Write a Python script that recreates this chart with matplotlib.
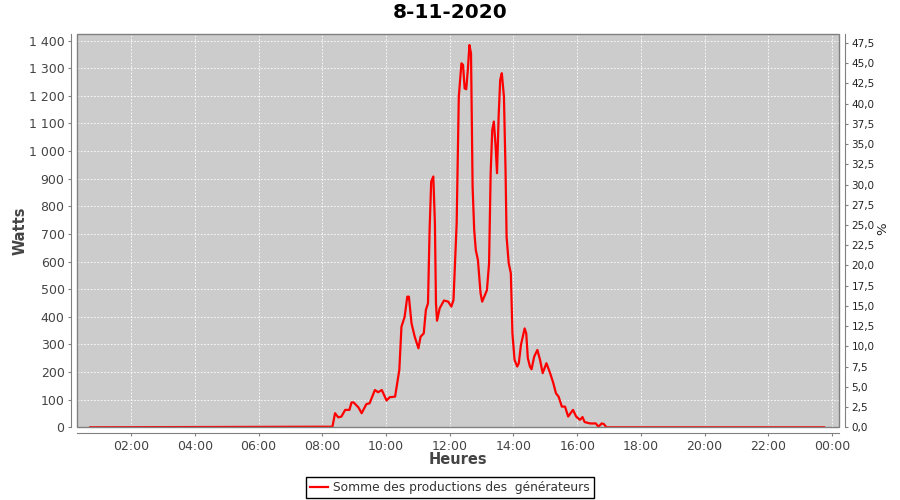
#!/usr/bin/env python3

import pandas as pd
import matplotlib
matplotlib.use("Agg")
from matplotlib import pyplot as plt
from matplotlib import dates as mdates
from matplotlib.ticker import FuncFormatter, MultipleLocator
from matplotlib.patches import Rectangle

DAY = "2020-11-08"
NEXT_DAY = "2020-11-09"
TITLE = "8-11-2020"
SERIES_NAME = "Somme des productions des  générateurs"
X_LABEL = "Heures"
Y_LABEL = "Watts"
Y2_LABEL = "%"

# production (time of day, watts)
TIMES = [
	"00:43", "07:42", "08:19", "08:24", "08:30", "08:36", "08:43", "08:51", "08:55", "08:59",
	"09:08", "09:14", "09:23", "09:29", "09:39", "09:45", "09:52", "10:01", "10:07", "10:17",
	"10:20", "10:25", "10:29", "10:35", "10:40", "10:43", "10:48", "10:54", "11:01", "11:05",
	"11:11", "11:15", "11:19", "11:22", "11:25", "11:29", "11:32", "11:34", "11:36", "11:41",
	"11:49", "11:57", "12:03", "12:07", "12:13", "12:17", "12:22", "12:25", "12:28", "12:31",
	"12:34", "12:37", "12:40", "12:43", "12:46", "12:49", "12:53", "12:58", "13:01", "13:05",
	"13:10", "13:14", "13:17", "13:20", "13:23", "13:26", "13:29", "13:32", "13:35", "13:38",
	"13:42", "13:45", "13:47", "13:51", "13:55", "13:58", "14:02", "14:07", "14:10", "14:14",
	"14:21", "14:24", "14:27", "14:31", "14:34", "14:39", "14:45", "14:50", "14:55", "15:02",
	"15:09", "15:15", "15:20", "15:25", "15:31", "15:37", "15:43", "15:52", "15:58", "16:05",
	"16:10", "16:14", "16:24", "16:35", "16:40", "16:46", "16:50", "16:55", "23:45",
]
WATTS = [
	0, 2, 2, 51, 36, 39, 63, 63, 90, 90,
	72, 51, 84, 87, 135, 127, 135, 97, 109, 111,
	147, 208, 364, 400, 473, 473, 376, 328, 286, 328,
	340, 425, 449, 714, 889, 908, 739, 449, 386, 431,
	459, 455, 437, 461, 739, 1197, 1318, 1312, 1227, 1224,
	1294, 1384, 1354, 871, 714, 642, 606, 485, 455, 473,
	497, 594, 920, 1076, 1107, 1028, 920, 1125, 1258, 1282,
	1197, 932, 690, 594, 558, 340, 244, 220, 232, 298,
	358, 340, 250, 220, 210, 256, 280, 244, 196, 232,
	196, 160, 123, 111, 75, 75, 39, 63, 39, 27,
	37, 19, 14, 14, 2, 14, 12, 0, 0,
]

W_MAX = 1424
W_PER_PCT = 29.3


def fr_int(v, pos):
	return "{:,.0f}".format(v).replace(",", " ")


def fr_dec(v, pos):
	return "{:.1f}".format(v).replace(".", ",")


def plot_day():
	fig = plt.figure(figsize=(9, 5), dpi=100)
	ax = fig.add_axes([77 / 900, 72.7 / 500, 762 / 900, 393.3 / 500])
	ax.set_facecolor("#cccccc")

	x = pd.to_datetime([DAY + " " + t for t in TIMES])
	line, = ax.plot(x, WATTS, color="red", lw=1.6, solid_joinstyle="round", zorder=3)

	ax.set_xlim(pd.Timestamp(DAY + " 00:18"), pd.Timestamp(NEXT_DAY + " 00:13"))
	ax.set_ylim(0, W_MAX)
	ax.yaxis.set_major_locator(MultipleLocator(100))
	ax.yaxis.set_major_formatter(FuncFormatter(fr_int))
	ax.xaxis.set_major_locator(mdates.HourLocator(byhour=range(0, 24, 2)))
	ax.xaxis.set_major_formatter(mdates.DateFormatter("%H:%M"))
	ax.grid(True, color="white", ls=(0, (2, 2)), lw=0.6)

	for s in ["top", "right"]:
		ax.spines[s].set_visible(False)
	for s in ["left", "bottom"]:
		ax.spines[s].set_position(("outward", 4))
		ax.spines[s].set_color("#808080")
	ax.tick_params(colors="#444444", labelsize=9, length=2, width=0.8, pad=3)
	ax.tick_params(axis="both", color="#808080")
	ax.add_patch(Rectangle((0, 0), 1, 1, transform=ax.transAxes, fill=False,
		edgecolor="#808080", lw=1, clip_on=False, zorder=4))

	ax2 = ax.twinx()
	ax2.set_ylim(0, W_MAX / W_PER_PCT)
	ax2.yaxis.set_major_locator(MultipleLocator(2.5))
	ax2.yaxis.set_major_formatter(FuncFormatter(fr_dec))
	for s in ["top", "left", "bottom"]:
		ax2.spines[s].set_visible(False)
	ax2.spines["right"].set_position(("outward", 4))
	ax2.spines["right"].set_color("#808080")
	ax2.tick_params(colors="#222222", labelsize=7.5, length=2, width=0.8, pad=3)
	ax2.tick_params(axis="y", color="#808080")

	fig.text(0.5, 1 - 13 / 500, TITLE, ha="center", va="center", fontsize=14.5, fontweight="bold")
	fig.text(0.5 + 8 / 900, 1 - 460 / 500, X_LABEL, ha="center", va="center",
		fontsize=10.5, fontweight="bold", color="#444444")
	fig.text(20 / 900, 1 - 231 / 500, Y_LABEL, ha="center", va="center", rotation=90,
		fontsize=10.5, fontweight="bold", color="#444444")
	fig.text(883 / 900, 1 - 229 / 500, Y2_LABEL, ha="center", va="center", rotation=90,
		fontsize=9.5, color="#222222")

	leg = fig.legend([line], [SERIES_NAME], loc="center", bbox_to_anchor=(0.5, 1 - 487.5 / 500),
		fancybox=False, framealpha=1, edgecolor="black", fontsize=8.8,
		handlelength=1.5, borderpad=0.3, handletextpad=0.4, borderaxespad=0)
	leg.get_frame().set_linewidth(1)
	for t in leg.get_texts():
		t.set_color("#333333")

	plt.savefig("out.png", dpi=100)
	plt.close()


if __name__ == "__main__":
	plot_day()
